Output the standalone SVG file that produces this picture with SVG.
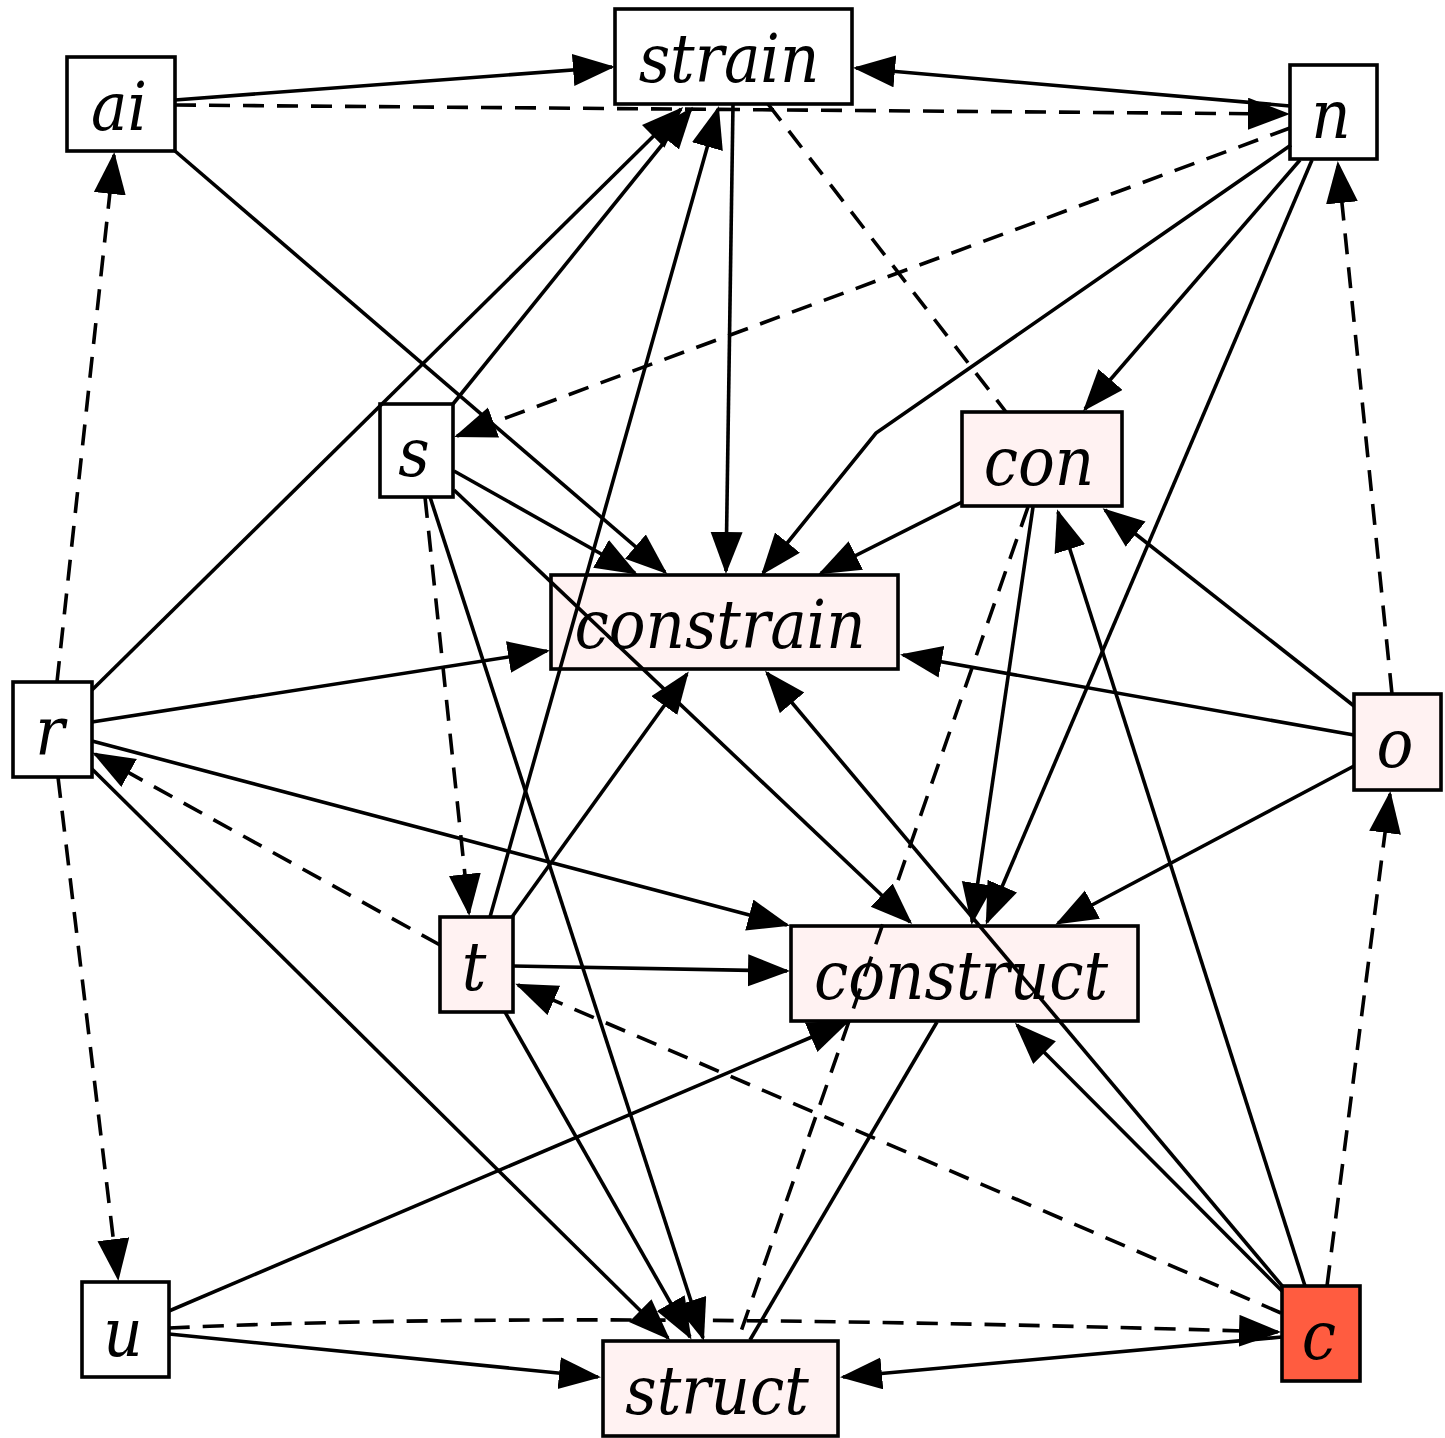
<svg xmlns="http://www.w3.org/2000/svg" width="1445" height="1438" viewBox="0 0 1445 1438">
<style>
.node rect{stroke:#000;stroke-width:3.6;fill:#fff}
.node.p rect{fill:#fff2f2}
.node.hot rect{fill:#ff5c40}
.node text{font-family:"DejaVu Serif Condensed","DejaVu Serif",serif;font-style:italic;font-size:68px;text-anchor:middle;fill:#000}
.edges path,.edges line{stroke:#000;stroke-width:3.6;fill:none}
.edges .d{stroke-dasharray:21 13}
.edges .a{marker-end:url(#ah)}
</style>
<defs>
<marker id="ah" markerUnits="userSpaceOnUse" markerWidth="44" markerHeight="34" refX="39" refY="16" orient="auto" viewBox="0 0 44 34">
<path d="M0,0 L42,16 L0,32 Z" fill="#000" stroke="none"/>
</marker>
</defs>
<g id="node-ai" class="node"><rect x="67" y="57" width="108" height="94"/><text x="119" y="130">ai</text></g>
<g id="node-strain" class="node"><rect x="615" y="9" width="237" height="95"/><text x="729" y="82">strain</text></g>
<g id="node-n" class="node"><rect x="1290" y="65" width="87" height="94"/><text x="1331" y="138">n</text></g>
<g id="node-s" class="node"><rect x="380" y="404" width="73" height="93"/><text x="414" y="476">s</text></g>
<g id="node-con" class="node p"><rect x="962" y="412" width="160" height="94"/><text x="1039" y="485">con</text></g>
<g id="node-constrain" class="node p"><rect x="551" y="575" width="347" height="94"/><text x="720" y="648">constrain</text></g>
<g id="node-r" class="node"><rect x="13" y="682" width="79" height="95"/><text x="50" y="755">r</text></g>
<g id="node-o" class="node p"><rect x="1354" y="694" width="87" height="96"/><text x="1395" y="767">o</text></g>
<g id="node-t" class="node p"><rect x="440" y="917" width="73" height="95"/><text x="474" y="990">t</text></g>
<g id="node-construct" class="node p"><rect x="791" y="926" width="347" height="95"/><text x="961" y="999">construct</text></g>
<g id="node-u" class="node"><rect x="82" y="1282" width="87" height="95"/><text x="123" y="1356">u</text></g>
<g id="node-struct" class="node p"><rect x="603" y="1341" width="235" height="95"/><text x="717" y="1414">struct</text></g>
<g id="node-c" class="node hot"><rect x="1282" y="1286" width="78" height="95"/><text x="1319" y="1359">c</text></g>
<g id="edges" class="edges">
<line class="a" x1="175" y1="100" x2="612" y2="67"/>
<line class="a d" x1="175" y1="105" x2="1287" y2="114"/>
<line class="a" x1="175" y1="151" x2="665" y2="572"/>
<line class="a" x1="733" y1="104" x2="726" y2="571"/>
<line class="a" x1="1290" y1="106" x2="856" y2="68"/>
<line class="a d" x1="1290" y1="128" x2="457" y2="436"/>
<path class="a" d="M1291,145 L876,433 L763,573"/>
<line class="a" x1="1300" y1="160" x2="1085" y2="409"/>
<line class="a" x1="1312" y1="160" x2="987" y2="922"/>
<line class="d" x1="768" y1="104" x2="1006" y2="412"/>
<line class="a" x1="962" y1="502" x2="821" y2="573"/>
<line class="d" x1="1028" y1="507" x2="738" y2="1340"/>
<line class="a" x1="92" y1="690" x2="681" y2="109"/>
<line class="a" x1="453" y1="404" x2="691" y2="109"/>
<line class="a" x1="490" y1="917" x2="718" y2="109"/>
<line class="a" x1="454" y1="471" x2="635" y2="573"/>
<line class="a" x1="454" y1="490" x2="910" y2="922"/>
<line class="a d" x1="425" y1="497" x2="469" y2="913"/>
<line class="a" x1="430" y1="497" x2="703" y2="1338"/>
<line class="a d" x1="57" y1="682" x2="114" y2="155"/>
<line class="a" x1="92" y1="722" x2="547" y2="651"/>
<line class="a" x1="92" y1="741" x2="787" y2="925"/>
<line class="a d" x1="440" y1="945" x2="95" y2="754"/>
<line class="a" x1="92" y1="769" x2="668" y2="1338"/>
<line class="a d" x1="58" y1="777" x2="118" y2="1278"/>
<line class="a" x1="512" y1="917" x2="687" y2="674"/>
<line class="a" x1="513" y1="966" x2="787" y2="971"/>
<line class="a d" x1="1281" y1="1313" x2="518" y2="985"/>
<line class="a" x1="505" y1="1012" x2="690" y2="1337"/>
<line class="a" x1="169" y1="1311" x2="847" y2="1022"/>
<line class="a" x1="169" y1="1334" x2="598" y2="1377"/>
<path class="a d" d="M169,1328 Q560,1310 1278,1332"/>
<line class="a" x1="1282" y1="1337" x2="843" y2="1377"/>
<line class="a" x1="1282" y1="1291" x2="1017" y2="1025"/>
<line class="a" x1="1283" y1="1287" x2="767" y2="673"/>
<line class="a" x1="1305" y1="1286" x2="1058" y2="512"/>
<line class="a d" x1="1327" y1="1286" x2="1390" y2="794"/>
<line class="a d" x1="1392" y1="694" x2="1338" y2="164"/>
<line class="a" x1="1354" y1="706" x2="1105" y2="510"/>
<line class="a" x1="1354" y1="735" x2="903" y2="655"/>
<line class="a" x1="1354" y1="766" x2="1058" y2="923"/>
<line class="a" x1="1033" y1="507" x2="972" y2="922"/>
<line x1="937" y1="1022" x2="750" y2="1340"/>
</g>
</svg>
